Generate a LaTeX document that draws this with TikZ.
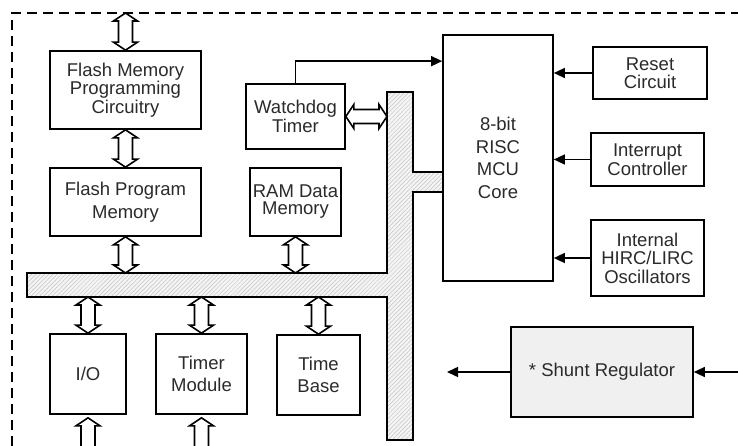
\documentclass[tikz,border=0pt]{standalone}
\usepackage{fontspec}
\setmainfont{Liberation Sans}
\usetikzlibrary{arrows.meta,calc,patterns.meta}
\definecolor{txt}{HTML}{2A2A2A}
\definecolor{busfill}{HTML}{F4F4F4}
\definecolor{hatch}{HTML}{C4C4C4}
\definecolor{shuntfill}{HTML}{F0F0F0}
\newcommand\hollowV[2]{%
  \path #1 coordinate (hvA); \path #2 coordinate (hvB);
  \draw[hollow] (hvA) -- ++(12,8) -- ++(-5,0) -- ($(hvB)+(7,-8)$) -- ++(5,0) -- (hvB)
    -- ++(-12,-8) -- ++(5,0) -- ($(hvA)+(-7,8)$) -- ++(-5,0) -- cycle;}
\newcommand\hollowH[2]{%
  \path #1 coordinate (hvA); \path #2 coordinate (hvB);
  \draw[hollow] (hvA) -- ++(8,-12) -- ++(0,5) -- ($(hvB)+(-8,-7)$) -- ++(0,-5) -- (hvB)
    -- ++(-8,12) -- ++(0,-5) -- ($(hvA)+(8,7)$) -- ++(0,5) -- cycle;}
\begin{document}
\begin{tikzpicture}[x=1pt,y=-1pt,
  box/.style={draw, line width=1.7pt, inner sep=0pt, align=center, text=txt,
    font=\fontsize{18.5}{18.5}\selectfont},
  wide/.style={font=\fontsize{18.5}{22.5}\selectfont},
  hollow/.style={draw, fill=white, line width=1.6pt, line join=miter},
  arr/.style={line width=1.5pt, -{Triangle[length=11pt,width=10pt]}}]
\useasboundingbox (0,0) rectangle (738,446);
\clip (0,0) rectangle (738,446);
% dashed border
\draw[line width=1.6pt, dash pattern=on 10pt off 6pt] (12,446) -- (12,13) -- (738,13);
% coordinates
\coordinate (topline) at (0,13);
\coordinate (bustop) at (0,273);
\coordinate (busbot) at (0,297);
\coordinate (busL) at (387,0);
\coordinate (pageend) at (0,446);
% bus
\draw[line width=1.7pt, preaction={fill=busfill},
  pattern={Lines[angle=45,distance=3pt,line width=0.5pt]}, pattern color=hatch]
  (27,273) -- (387,273) -- (387,92) -- (413,92) -- (413,172) -- (443,172)
  -- (443,192) -- (413,192) -- (413,440) -- (387,440) -- (387,297) -- (27,297) -- cycle;
% boxes
\node[box, minimum width=151pt, minimum height=78pt] (fmpc) at (125.5,90) {Flash Memory\\Programming\\Circuitry};
\node[box, wide, minimum width=151pt, minimum height=68pt] (fpm) at (125.5,202) {Flash Program\\Memory};
\node[box, minimum width=99pt, minimum height=65pt] (wdt) at (295.5,116.5) {Watchdog\\Timer};
\node[box, font=\fontsize{18.5}{17}\selectfont, minimum width=91pt, minimum height=68pt] (ram) at (295.5,202) {RAM Data\\Memory};
\node[box, wide, minimum width=110pt, minimum height=246pt] (mcu) at (498,158) {8-bit\\RISC\\MCU\\Core};
\node[box, font=\fontsize{18.5}{17.5}\selectfont, minimum width=114pt, minimum height=52pt] (reset) at (650,73) {Reset\\Circuit};
\node[box, minimum width=113pt, minimum height=53pt] (intc) at (647.5,159.5) {Interrupt\\Controller};
\node[box, minimum width=113pt, minimum height=76pt] (osc) at (647.5,258) {Internal\\HIRC/LIRC\\Oscillators};
\node[box, fill=shuntfill, minimum width=182pt, minimum height=90pt] (shunt) at (602,372) {* Shunt Regulator};
\node[box, minimum width=76pt, minimum height=80pt] (io) at (88,374) {I/O};
\node[box, wide, minimum width=91pt, minimum height=80pt] (tmod) at (201.5,374) {Timer\\Module};
\node[box, wide, minimum width=83pt, minimum height=80pt] (tbase) at (318.5,375) {Time\\Base};
\coordinate (regout) at (447,372);
\coordinate (regin) at (738,372);
% hollow bus arrows
\hollowV{(fmpc.north |- topline)}{(fmpc.north)}
\hollowV{(fmpc.south)}{(fpm.north)}
\hollowV{(fpm.south)}{(fpm.south |- bustop)}
\hollowV{(ram.south)}{(ram.south |- bustop)}
\hollowV{(io.north |- busbot)}{(io.north)}
\hollowV{(tmod.north |- busbot)}{(tmod.north)}
\hollowV{(tbase.north |- busbot)}{(tbase.north)}
\hollowV{($(io.south)+(0,3)$)}{($(io.south |- pageend)+(0,40)$)}
\hollowV{($(tmod.south)+(0,3)$)}{($(tmod.south |- pageend)+(0,40)$)}
\hollowH{(wdt.east)}{(wdt.east -| busL)}
% single arrows
\draw[arr] (wdt.north) |- ($(mcu.north west)+(0,27)$);
\draw[arr] (reset.west) -- (reset.west -| mcu.east);
\draw[arr] (intc.west) -- (intc.west -| mcu.east);
\draw[arr] (osc.west) -- (osc.west -| mcu.east);
\draw[arr] (shunt.west) -- (regout);
\draw[arr] (regin) -- (shunt.east);
\end{tikzpicture}
\end{document}
